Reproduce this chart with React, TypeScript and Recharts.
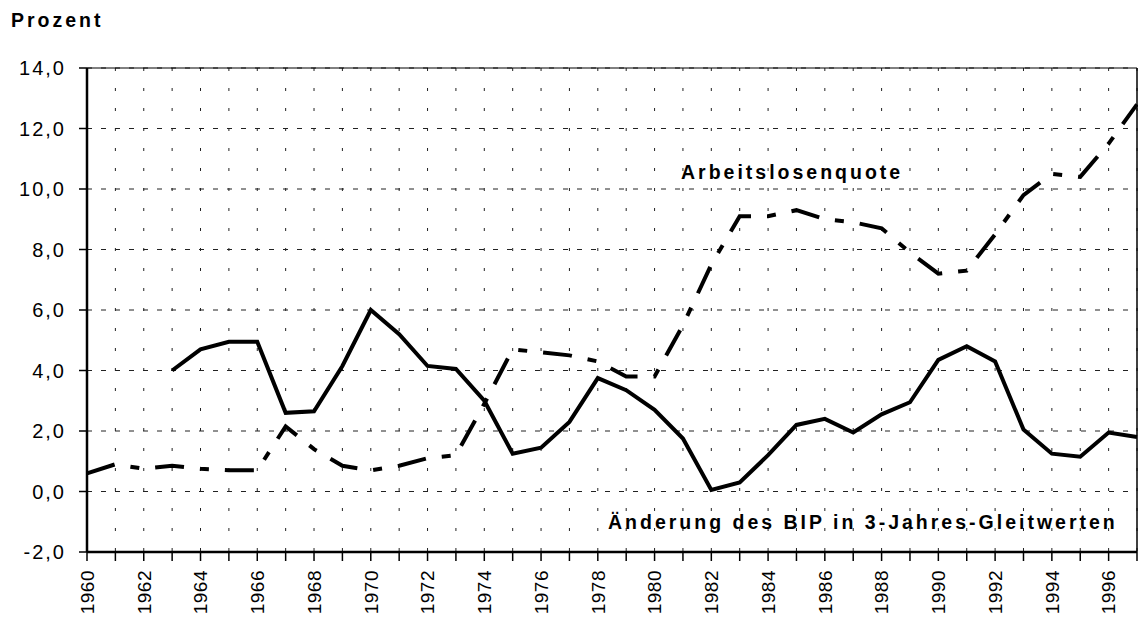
import * as React from "react";
import {
  LineChart,
  Line,
  XAxis,
  YAxis,
  CartesianGrid,
  ReferenceLine,
} from "recharts";

const years = [
  1960, 1961, 1962, 1963, 1964, 1965, 1966, 1967, 1968, 1969,
  1970, 1971, 1972, 1973, 1974, 1975, 1976, 1977, 1978, 1979,
  1980, 1981, 1982, 1983, 1984, 1985, 1986, 1987, 1988, 1989,
  1990, 1991, 1992, 1993, 1994, 1995, 1996, 1997,
];

// Arbeitslosenquote (dashed)
const unemployment = [
  0.6, 0.9, 0.75, 0.85, 0.75, 0.7, 0.7, 2.15, 1.4, 0.85,
  0.7, 0.85, 1.1, 1.2, 2.9, 4.7, 4.6, 4.5, 4.3, 3.8,
  3.8, 5.5, 7.5, 9.1, 9.1, 9.3, 9.0, 8.9, 8.7, 7.9,
  7.2, 7.3, 8.5, 9.8, 10.5, 10.4, 11.5, 12.8,
];

// Änderung des BIP in 3-Jahres-Gleitwerten (solid)
const gdpChange = [
  null, null, null, 4.0, 4.7, 4.95, 4.95, 2.6, 2.65, 4.15,
  6.0, 5.2, 4.15, 4.05, 3.0, 1.25, 1.45, 2.3, 3.75, 3.35,
  2.7, 1.75, 0.05, 0.3, 1.2, 2.2, 2.4, 1.95, 2.55, 2.95,
  4.35, 4.8, 4.3, 2.05, 1.25, 1.15, 1.95, 1.8,
];

const yTicks = [-2, 0, 2, 4, 6, 8, 10, 12, 14];

const FONT = '"Liberation Sans", Arial, sans-serif';

const chartData = years.map((year, i) => ({
  year,
  unemployment: unemployment[i],
  gdp: gdpChange[i],
}));

const formatY = (v: number) => v.toFixed(1).replace(".", ",");

function YearTick({ x, y, payload }: any) {
  const v = payload.value as number;
  // only every second year gets a label, 1997 none
  if (v % 2 !== 0 || v === 1997) return <g />;
  return (
    <text
      x={x}
      y={y}
      transform={`rotate(-90, ${x}, ${y})`}
      textAnchor="end"
      dy="0.36em"
      fill="#000"
      fontSize={19}
      letterSpacing={0.5}
      fontFamily={FONT}
    >
      {v}
    </text>
  );
}

export default function App() {
  return (
    <div
      style={{
        position: "absolute",
        left: 0,
        top: 0,
        width: 1138,
        height: 619,
        background: "#fff",
        fontFamily: FONT,
        overflow: "hidden",
      }}
    >
      <LineChart
        width={1138}
        height={619}
        data={chartData}
        margin={{ top: 68, right: 1, bottom: 0, left: 0 }}
      >
        <CartesianGrid
          horizontal={true}
          vertical={false}
          stroke="#222"
          strokeWidth={1}
          strokeDasharray="5 9"
        />
        <CartesianGrid
          horizontal={false}
          vertical={true}
          stroke="#222"
          strokeWidth={1}
          strokeDasharray="3 17"
        />
        <XAxis
          dataKey="year"
          type="number"
          domain={[1960, 1997]}
          ticks={years}
          interval={0}
          height={67}
          tickSize={9}
          tickMargin={9}
          axisLine={{ stroke: "#000", strokeWidth: 2.5 }}
          tickLine={{ stroke: "#000", strokeWidth: 1.5 }}
          tick={<YearTick />}
        />
        <YAxis
          type="number"
          domain={[-2, 14]}
          ticks={yTicks}
          interval={0}
          width={87}
          tickSize={8}
          tickMargin={13}
          tickFormatter={formatY}
          axisLine={{ stroke: "#000", strokeWidth: 2.5 }}
          tickLine={{ stroke: "#000", strokeWidth: 1.5 }}
          tick={{ fill: "#000", fontSize: 20, letterSpacing: 2, fontFamily: FONT }}
        />
        <ReferenceLine y={14} stroke="#000" strokeWidth={1} />
        <ReferenceLine x={1997} stroke="#000" strokeWidth={1.5} />
        <Line
          type="linear"
          dataKey="unemployment"
          stroke="#000"
          strokeWidth={4}
          strokeDasharray="29 16 9 16"
          dot={false}
          isAnimationActive={false}
        />
        <Line
          type="linear"
          dataKey="gdp"
          stroke="#000"
          strokeWidth={4}
          dot={false}
          connectNulls={false}
          isAnimationActive={false}
        />
      </LineChart>
      <svg
        width={1138}
        height={619}
        style={{ position: "absolute", left: 0, top: 0, pointerEvents: "none" }}
      >
        <text x={11} y={27} fontSize={19.5} fontWeight="bold" letterSpacing={3} fill="#000" fontFamily={FONT}>
          Prozent
        </text>
        <text x={681} y={179} fontSize={19.5} fontWeight="bold" letterSpacing={3} fill="#000" fontFamily={FONT}>
          Arbeitslosenquote
        </text>
        <text x={608} y={529} fontSize={19.5} fontWeight="bold" letterSpacing={3} fill="#000" fontFamily={FONT}>
          Änderung des BIP in 3-Jahres-Gleitwerten
        </text>
      </svg>
    </div>
  );
}
